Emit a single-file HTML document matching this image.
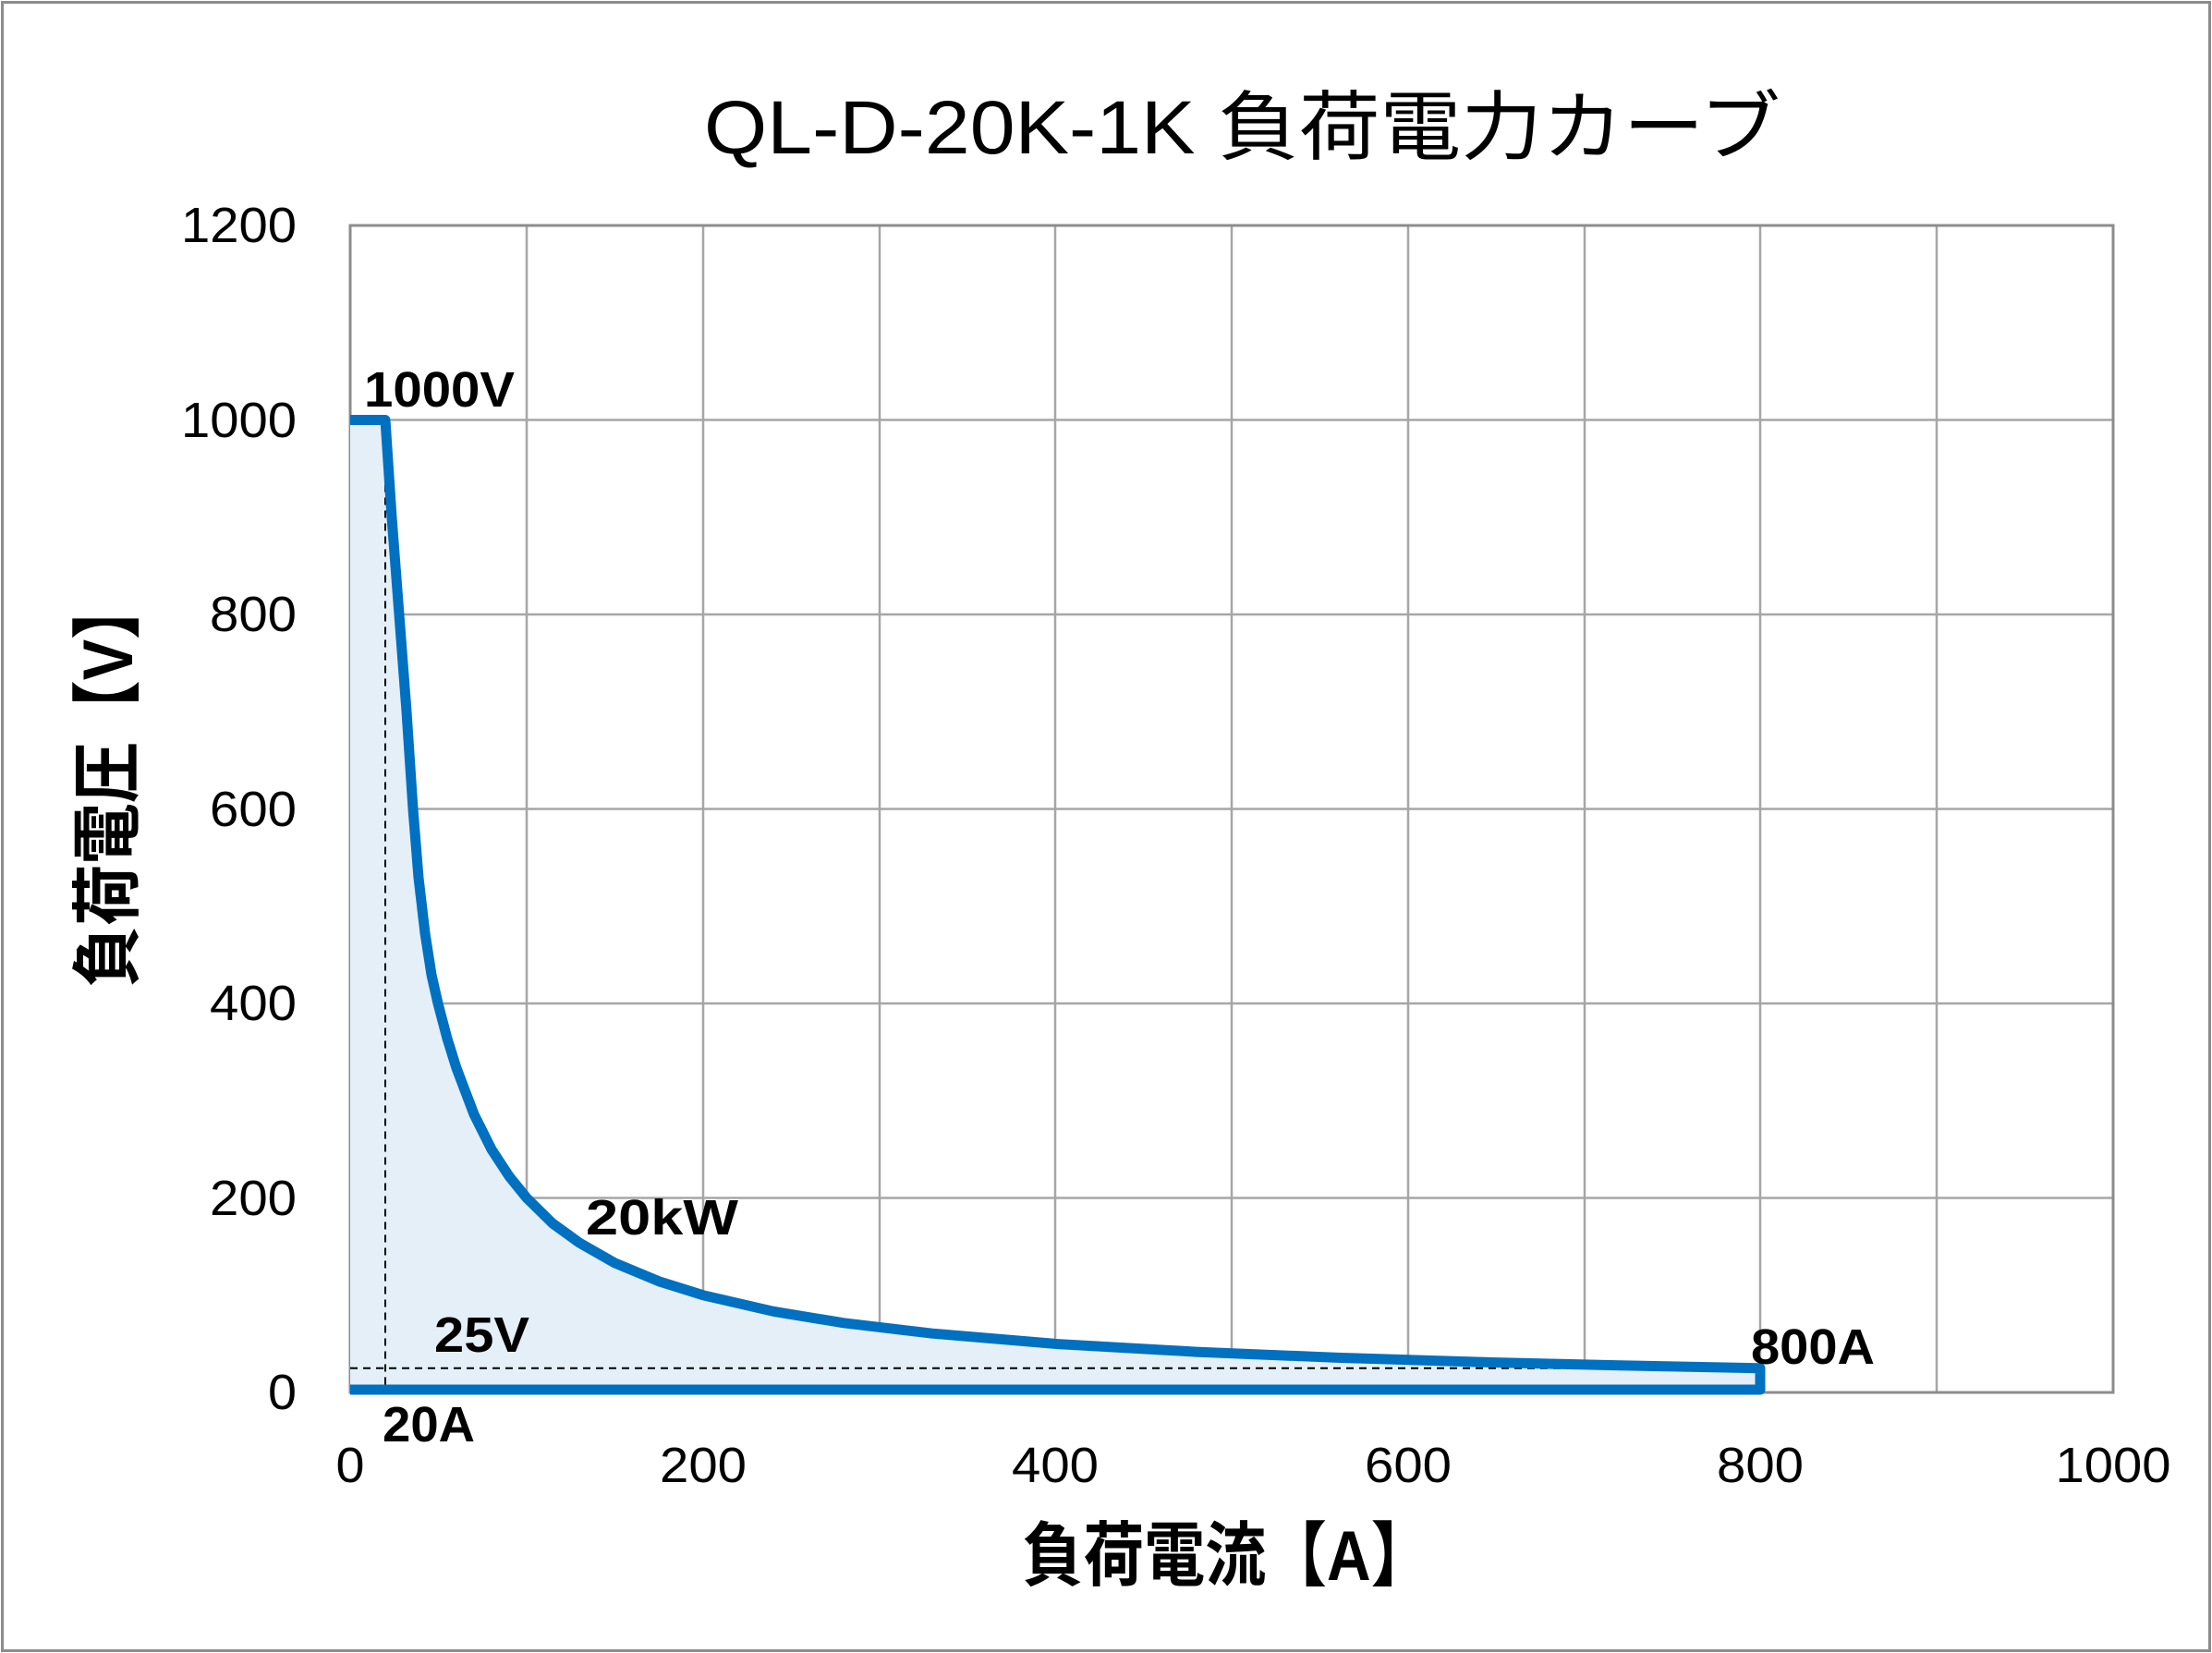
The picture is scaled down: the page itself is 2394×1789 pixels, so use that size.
<!DOCTYPE html>
<html><head><meta charset="utf-8"><style>html,body{margin:0;padding:0;background:#fff}svg{display:block}</style></head>
<body>
<svg width="2394" height="1789" viewBox="0 0 2394 1789" xmlns="http://www.w3.org/2000/svg" font-family="'Liberation Sans','Noto Sans CJK JP',sans-serif">
<rect x="2.5" y="2.5" width="2389" height="1784" fill="#fff" stroke="#8c8c8c" stroke-width="3"/>
<text x="762" y="166" font-size="82" textLength="1165" lengthAdjust="spacingAndGlyphs">QL-D-20K-1K  負荷電力カーブ</text>
<g stroke="#a6a6a6" stroke-width="2.5">
<line x1="570" y1="244" x2="570" y2="1507"/><line x1="761" y1="244" x2="761" y2="1507"/>
<line x1="952" y1="244" x2="952" y2="1507"/><line x1="1142" y1="244" x2="1142" y2="1507"/>
<line x1="1333" y1="244" x2="1333" y2="1507"/><line x1="1524" y1="244" x2="1524" y2="1507"/>
<line x1="1715" y1="244" x2="1715" y2="1507"/><line x1="1905" y1="244" x2="1905" y2="1507"/>
<line x1="2096" y1="244" x2="2096" y2="1507"/>
<line x1="379" y1="454.5" x2="2287" y2="454.5"/><line x1="379" y1="665" x2="2287" y2="665"/>
<line x1="379" y1="875.5" x2="2287" y2="875.5"/><line x1="379" y1="1086" x2="2287" y2="1086"/>
<line x1="379" y1="1296.5" x2="2287" y2="1296.5"/>
</g>
<rect x="379" y="244" width="1908" height="1263" fill="none" stroke="#8c8c8c" stroke-width="3"/>
<path d="M379,454.5 L417,454.5 L424,560 L432,665 L440,770 L447,875.5 L453,950 L460,1010 L467,1055 L474,1086 L484,1124 L494,1156 L513,1206 L532,1244 L551,1273 L570,1296.5 L598,1324 L627,1345 L665,1366.7 L713,1386.7 L761,1401.8 L837,1419.3 L913,1431.8 L1009,1443.2 L1142,1454.4 L1295,1463.1 L1448,1469.4 L1619,1474.6 L1753,1477.8 L1905,1480.7 L1905,1507 L379,1507 Z" fill="#e4eff8" stroke="none"/>
<g stroke="#000" stroke-width="2" stroke-dasharray="8,6" fill="none">
<line x1="417" y1="454.5" x2="417" y2="1507"/>
<line x1="379" y1="1480.7" x2="1905" y2="1480.7"/>
</g>
<path d="M379,454.5 L417,454.5 L424,560 L432,665 L440,770 L447,875.5 L453,950 L460,1010 L467,1055 L474,1086 L484,1124 L494,1156 L513,1206 L532,1244 L551,1273 L570,1296.5 L598,1324 L627,1345 L665,1366.7 L713,1386.7 L761,1401.8 L837,1419.3 L913,1431.8 L1009,1443.2 L1142,1454.4 L1295,1463.1 L1448,1469.4 L1619,1474.6 L1753,1477.8 L1905,1480.7 L1905,1504 L379,1504" fill="none" stroke="#0070c0" stroke-width="11" stroke-linejoin="round"/>
<g font-size="54" text-anchor="end">
<text x="321" y="262" textLength="125" lengthAdjust="spacingAndGlyphs">1200</text>
<text x="321" y="473" textLength="125" lengthAdjust="spacingAndGlyphs">1000</text>
<text x="321" y="683" textLength="94" lengthAdjust="spacingAndGlyphs">800</text>
<text x="321" y="894" textLength="94" lengthAdjust="spacingAndGlyphs">600</text>
<text x="321" y="1104" textLength="94" lengthAdjust="spacingAndGlyphs">400</text>
<text x="321" y="1315" textLength="94" lengthAdjust="spacingAndGlyphs">200</text>
<text x="321" y="1525" textLength="31" lengthAdjust="spacingAndGlyphs">0</text>
</g>
<g font-size="54" text-anchor="middle">
<text x="379" y="1604" textLength="31" lengthAdjust="spacingAndGlyphs">0</text>
<text x="761" y="1604" textLength="94" lengthAdjust="spacingAndGlyphs">200</text>
<text x="1142" y="1604" textLength="94" lengthAdjust="spacingAndGlyphs">400</text>
<text x="1524" y="1604" textLength="94" lengthAdjust="spacingAndGlyphs">600</text>
<text x="1905" y="1604" textLength="94" lengthAdjust="spacingAndGlyphs">800</text>
<text x="2287" y="1604" textLength="125" lengthAdjust="spacingAndGlyphs">1000</text>
</g>
<g font-size="54" font-weight="bold">
<text x="394" y="440" textLength="163" lengthAdjust="spacingAndGlyphs">1000V</text>
<text x="634" y="1336" textLength="165" lengthAdjust="spacingAndGlyphs">20kW</text>
<text x="470" y="1463" textLength="103" lengthAdjust="spacingAndGlyphs">25V</text>
<text x="1895" y="1476" textLength="134" lengthAdjust="spacingAndGlyphs">800A</text>
<text x="414" y="1560" textLength="100" lengthAdjust="spacingAndGlyphs">20A</text>
</g>
<text x="1328" y="1710" font-size="76" font-weight="bold" text-anchor="middle" textLength="443" lengthAdjust="spacingAndGlyphs">負荷電流【A】</text>
<text transform="translate(143,847) rotate(-90)" x="0" y="0" font-size="76" font-weight="bold" text-anchor="middle" textLength="443" lengthAdjust="spacingAndGlyphs">負荷電圧【V】</text>
</svg>
</body></html>
